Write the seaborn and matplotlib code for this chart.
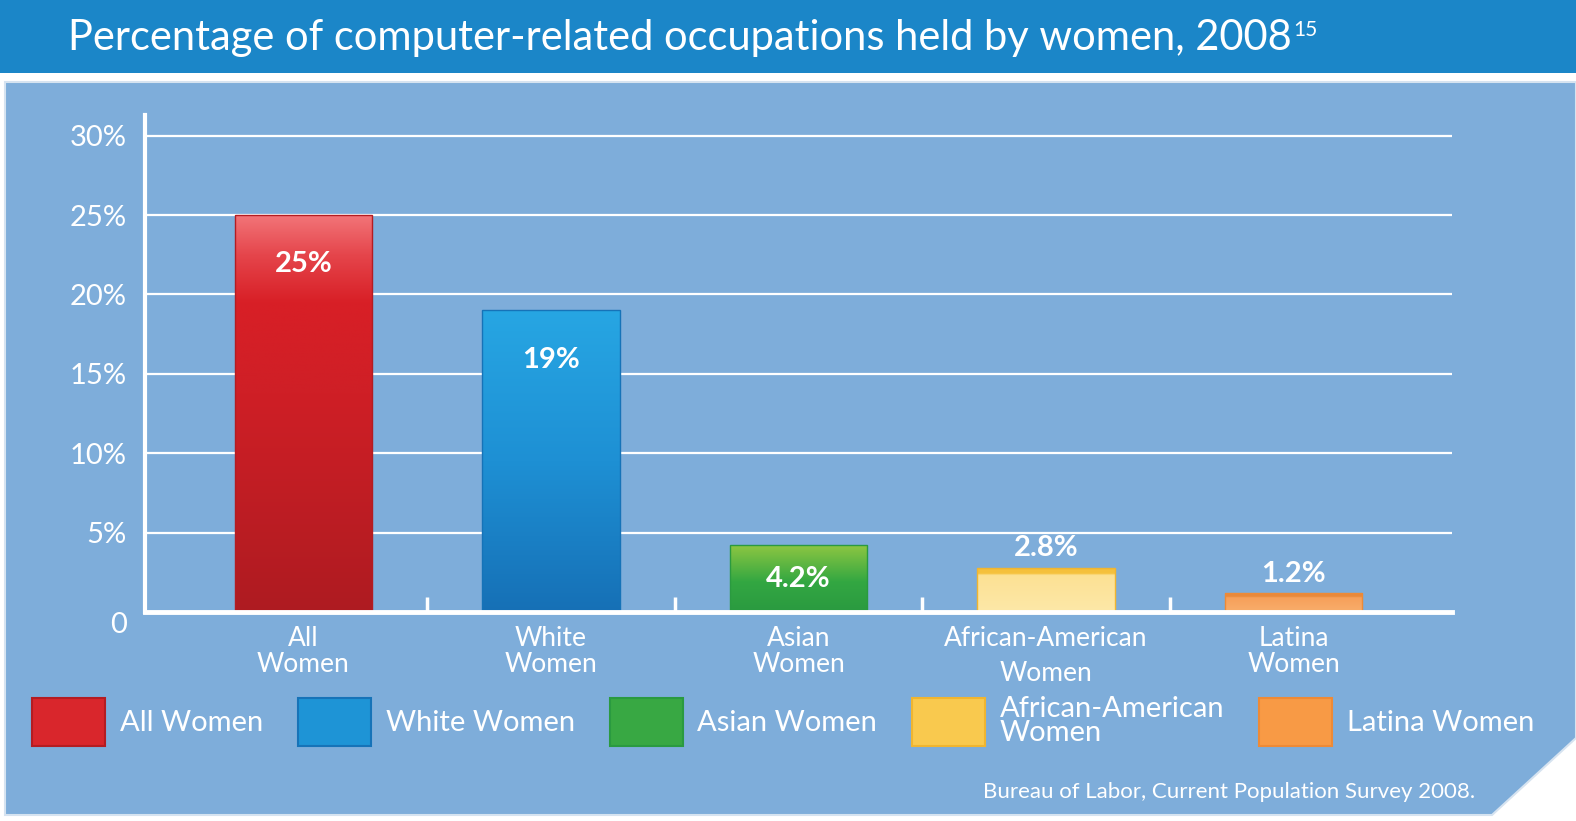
import matplotlib
matplotlib.use("Agg")
import matplotlib.pyplot as plt
import seaborn as sns
import numpy as np
from matplotlib.patches import Rectangle, Polygon, Patch
from matplotlib.colors import LinearSegmentedColormap

# data
categories = ["All\nWomen", "White\nWomen", "Asian\nWomen", "African-American\nWomen", "Latina\nWomen"]
legend_labels = ["All Women", "White Women", "Asian Women", "African-American\nWomen", "Latina Women"]
values = [25, 19, 4.2, 2.8, 1.2]
value_labels = ["25%", "19%", "4.2%", "2.8%", "1.2%"]
yticks = [0, 5, 10, 15, 20, 25, 30]
ytick_labels = ["0", "5%", "10%", "15%", "20%", "25%", "30%"]

# gradient stops per bar, bottom (0) to top (1)
grad_stops = [
    [(0, "#AE1B21"), (0.55, "#CF1F26"), (0.78, "#D81F26"), (0.9, "#E5454B"), (1, "#F27478")],
    [(0, "#1670B6"), (0.5, "#1E90D4"), (1, "#27A6E3")],
    [(0, "#2A9A40"), (0.45, "#33A742"), (1, "#8DC641")],
    [(0, "#FDE8A8"), (0.82, "#FCE194"), (0.86, "#F6C23E"), (1, "#F4BE3A")],
    [(0, "#F8AE6C"), (0.72, "#F6A05A"), (0.78, "#EA8A3C"), (1, "#E8883A")],
]
main_colors = ["#D9262C", "#1E94D6", "#38A843", "#F9C94E", "#F89A45"]
edge_colors = ["#B41C22", "#1673B8", "#2A9A40", "#F0B530", "#EE8A36"]

BG = "#7EADDA"
BAND = "#1B86C8"

sns.set_theme(style="white")
plt.rcParams["font.family"] = ["Lato", "DejaVu Sans"]

fig = plt.figure(figsize=(15.76, 8.21), dpi=100)
fig.patch.set_facecolor("white")

# header band and panel with a cut corner
W, H = 1576, 821
fig.patches.append(Rectangle((0, 1 - 73 / H), 1, 73 / H, transform=fig.transFigure,
                             facecolor=BAND, edgecolor="none", zorder=-2))
pts = [(5, 82), (1576, 82), (1576, 738), (1492, 815), (5, 815)]
pts = [(x / W, 1 - y / H) for x, y in pts]
fig.patches.append(Polygon(pts, closed=True, transform=fig.transFigure,
                           facecolor=BG, edgecolor="#D6E3F0", linewidth=1.5, zorder=-2))

title = fig.text(68 / W, 1 - 38 / H, "Percentage of computer-related occupations held by women, 2008",
                 color="white", fontsize=30, va="center", ha="left")
fig.canvas.draw()
bb = title.get_window_extent()
fig.text(bb.x1 / W + 0.001, 1 - 30 / H, "15", color="white", fontsize=15, va="center", ha="left")

ax = fig.add_axes([145 / W, 1 - 612 / H, (1452 - 145) / W, (612 - 115) / H])
ax.set_facecolor("none")
ax.set_zorder(2)

sns.barplot(x=categories, y=values, hue=categories, palette=main_colors, width=0.555,
            legend=False, ax=ax, zorder=3, saturation=1)

# gradient fills clipped to each bar
for patch, stops, ec in zip(ax.patches, grad_stops, edge_colors):
    x0, y0 = patch.get_x(), patch.get_y()
    w, h = patch.get_width(), patch.get_height()
    cmap = LinearSegmentedColormap.from_list("g", stops)
    grad = np.linspace(0, 1, 256).reshape(-1, 1)
    im = ax.imshow(grad, extent=[x0, x0 + w, y0, y0 + h], origin="lower", aspect="auto",
                   cmap=cmap, zorder=3)
    im.set_clip_path(patch)
    patch.set_facecolor("none")
    patch.set_edgecolor(ec)
    patch.set_linewidth(1.0)
    patch.set_zorder(3.5)

ax.set_xlim(-0.64, 4.64)
ax.set_ylim(0, 31.3)

# gridlines
for t in yticks[1:]:
    ax.axhline(t, color="white", linewidth=1.6, zorder=1)

ax.set_yticks(yticks)
ax.set_yticklabels(ytick_labels, color="white", fontsize=21)
ax.tick_params(axis="y", length=0, pad=13)
ax.set_xticks(range(len(categories)))
ax.set_xticklabels(categories, color="white", fontsize=19, linespacing=1.05)
ax.tick_params(axis="x", length=0, pad=10)
ax.get_xticklabels()[3].set_linespacing(1.5)
for lab in ax.get_yticklabels():
    if lab.get_text() == "0":
        lab.set_va("top")

# small separating ticks between categories
for xm in [0.5, 1.5, 2.5, 3.5]:
    ax.plot([xm, xm], [0, 0.95], color="white", linewidth=2.5, zorder=4, solid_capstyle="butt")

for s in ["top", "right"]:
    ax.spines[s].set_visible(False)
ax.spines["left"].set_color("white")
ax.spines["left"].set_linewidth(3)
ax.spines["bottom"].set_color("white")
ax.spines["bottom"].set_linewidth(3.5)
ax.spines["bottom"].set_zorder(5)
ax.set_xlabel("")
ax.set_ylabel("")

# value labels
for i, (v, lab) in enumerate(zip(values, value_labels)):
    if v > 10:
        ax.text(i, v - 3.1, lab, ha="center", va="center", color="white",
                fontsize=21, fontweight="bold", zorder=6)
    elif v > 4:
        ax.text(i, v / 2, lab, ha="center", va="center", color="white",
                fontsize=21, fontweight="bold", zorder=6)
    else:
        ax.text(i, v + 0.4, lab, ha="center", va="bottom", color="white",
                fontsize=21, fontweight="bold", zorder=6)

# legend
handles = [Patch(facecolor=c, edgecolor=e, linewidth=1.5) for c, e in zip(main_colors, edge_colors)]
leg = fig.legend(handles, legend_labels, loc="center left", bbox_to_anchor=(6 / W, 1 - 721 / H),
                 ncol=5, frameon=False, fontsize=21, handlelength=2.5, handleheight=2.2,
                 handletextpad=0.5, columnspacing=1.2, labelcolor="white")
for t in leg.get_texts():
    t.set_linespacing(0.9)

fig.text(1475 / W, 1 - 792 / H, "Bureau of Labor, Current Population Survey 2008.",
         color="white", fontsize=16, ha="right", va="center")

fig.savefig("out.png", dpi=100)
